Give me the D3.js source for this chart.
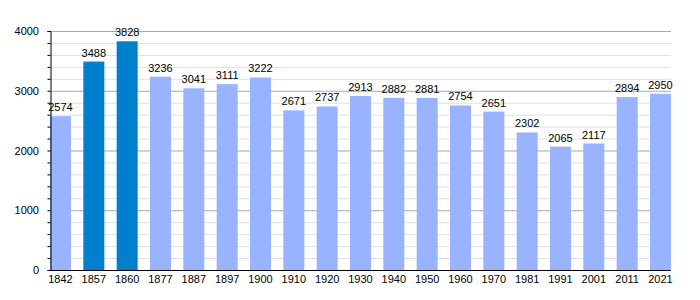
<!DOCTYPE html>
<html>
<head>
<meta charset="utf-8">
<script src="https://cdn.jsdelivr.net/npm/d3@7"></script>
<style>
  body { margin: 0; background: #fff; }
  text { font-family: "Liberation Sans", Arial, sans-serif; font-size: 11px; fill: #000; }
</style>
</head>
<body>
<svg id="chart" width="700" height="300"></svg>
<script>
const years = ["1842", "1857", "1860", "1877", "1887", "1897", "1900", "1910", "1920", "1930",
  "1940", "1950", "1960", "1970", "1981", "1991", "2001", "2011", "2021"];
const population = [2574, 3488, 3828, 3236, 3041, 3111, 3222, 2671, 2737, 2913,
  2882, 2881, 2754, 2651, 2302, 2065, 2117, 2894, 2950];
const highlighted = ["1857", "1860"];
const yTicks = [0, 1000, 2000, 3000, 4000];

const svg = d3.select("#chart");
const plot = { left: 50, right: 671, top: 31, bottom: 270 };

const x = d3.scaleBand().domain(years).range([plot.left, plot.right]).paddingInner(0.37).paddingOuter(0);
const y = d3.scaleLinear().domain([0, 4000]).range([plot.bottom, plot.top]);

// grid
const minor = d3.range(0, 4001, 200).filter(v => v % 1000 !== 0);
svg.append("g").selectAll("line").data(minor).join("line")
  .attr("x1", plot.left).attr("x2", plot.right)
  .attr("y1", d => y(d) + 0.5).attr("y2", d => y(d) + 0.5)
  .attr("stroke", "#e0e0e0");
svg.append("g").selectAll("line").data(yTicks.filter(v => v > 0)).join("line")
  .attr("x1", plot.left).attr("x2", plot.right)
  .attr("y1", d => y(d) + 0.5).attr("y2", d => y(d) + 0.5)
  .attr("stroke", "#a8a8a8");

// bars
svg.append("g").selectAll("rect").data(years).join("rect")
  .attr("x", d => x(d))
  .attr("width", x.bandwidth())
  .attr("y", (d, i) => y(population[i]))
  .attr("height", (d, i) => plot.bottom - y(population[i]))
  .attr("fill", d => highlighted.includes(d) ? "#0080cc" : "#99b3ff");

// value labels
svg.append("g").selectAll("text").data(years).join("text")
  .attr("x", d => x(d) + x.bandwidth() / 2)
  .attr("y", (d, i) => y(population[i]) - 5)
  .attr("text-anchor", "middle")
  .text((d, i) => population[i]);

// y axis
const yAxis = svg.append("g").attr("transform", `translate(${plot.left + 0.5},0)`);
yAxis.call(d3.axisLeft(y).tickValues(d3.range(0, 4001, 200)).tickSize(3).tickFormat(""));
yAxis.select(".domain").attr("stroke", "#000");
yAxis.selectAll(".tick line").attr("stroke", "#000");
svg.append("g").selectAll("text").data(yTicks).join("text")
  .attr("x", plot.left - 11)
  .attr("y", d => y(d) + 4)
  .attr("text-anchor", "end")
  .text(d => d);

// x axis
svg.append("line")
  .attr("x1", plot.left).attr("x2", plot.right)
  .attr("y1", plot.bottom + 0.5).attr("y2", plot.bottom + 0.5)
  .attr("stroke", "#000");
svg.append("g").selectAll("text").data(years).join("text")
  .attr("x", d => x(d) + x.bandwidth() / 2)
  .attr("y", plot.bottom + 13)
  .attr("text-anchor", "middle")
  .text(d => d);
</script>
</body>
</html>
